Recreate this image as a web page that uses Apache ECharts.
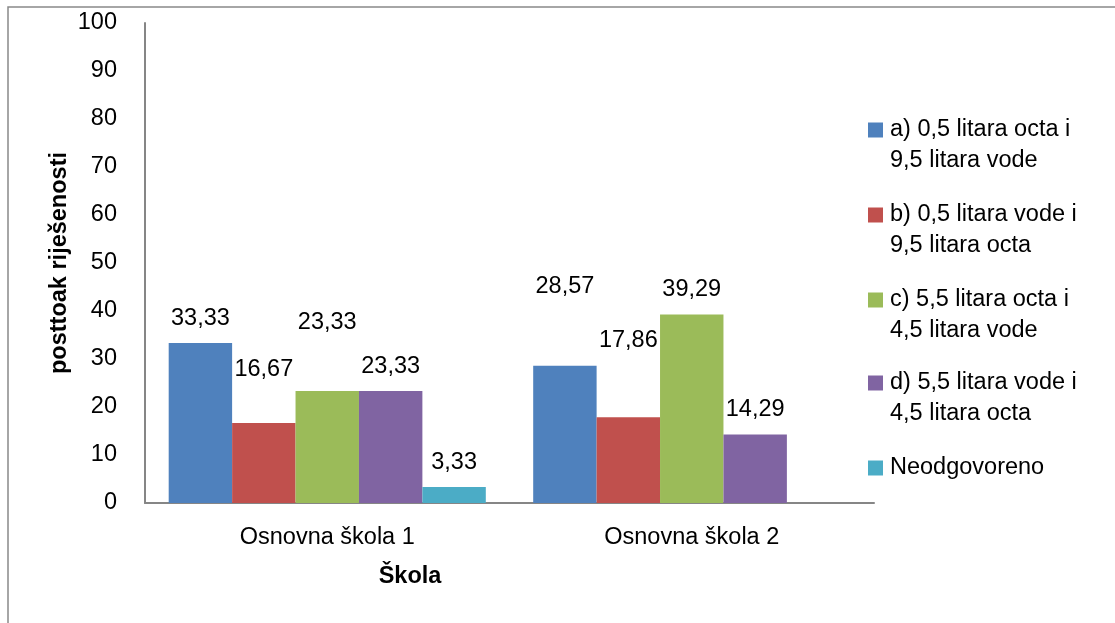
<!DOCTYPE html>
<html>
<head>
<meta charset="utf-8">
<script src="https://cdn.jsdelivr.net/npm/echarts@6/dist/echarts.min.js"></script>
<style>html,body{margin:0;padding:0;background:#fff}#c{width:1115px;height:623px}</style>
</head>
<body>
<div id="c"></div>
<script>
const categories = ['Osnovna škola 1', 'Osnovna škola 2'];
const seriesNames = [
  'a) 0,5 litara octa i\n9,5 litara vode',
  'b) 0,5 litara vode i\n9,5 litara octa',
  'c) 5,5 litara octa i\n4,5 litara vode',
  'd) 5,5 litara vode i\n4,5 litara octa',
  'Neodgovoreno'
];
const valuesA = [33.33, 28.57];
const valuesB = [16.67, 17.86];
const valuesC = [23.33, 39.29];
const valuesD = [23.33, 14.29];
const valuesN = [3.33, null];
const yTicks = [0, 10, 20, 30, 40, 50, 60, 70, 80, 90, 100];

const colors = ['#4F81BD', '#C0504D', '#9BBB59', '#8064A2', '#4BACC6'];
// extra vertical label shifts (as in the reference, where some labels were moved)
const labelShift = [[0, -54], [-28, -52], [-44, 0], [0, 0], [0, 0]];
const allValues = [valuesA, valuesB, valuesC, valuesD, valuesN];
const FONT = "'Liberation Sans', Arial, sans-serif";
const FS = 23.5;

const series = allValues.map((vals, i) => ({
  name: seriesNames[i],
  type: 'bar',
  barGap: '0%',
  barCategoryGap: '13%',
  itemStyle: { color: colors[i] },
  data: vals.map((v, j) => ({
    value: v,
    label: { offset: [0, labelShift[i][j]] }
  })),
  label: {
    show: true,
    position: 'top',
    distance: 13,
    color: '#000',
    fontSize: FS,
    fontFamily: FONT,
    formatter: p => p.value == null ? '' : p.value.toFixed(2).replace('.', ',')
  }
}));

// legends: one per item so the icon aligns with the first text line
const legendFirstLine = [130, 215, 300, 383, 468];
const legends = seriesNames.map((n, i) => {
  const twoLine = n.indexOf('\n') >= 0;
  return {
    data: [n],
    left: 868,
    top: legendFirstLine[i] - (twoLine ? 46.5 : 15.5),
    padding: 0,
    itemWidth: 15,
    itemHeight: 15,
    icon: 'rect',
    selectedMode: false,
    formatter: name => (twoLine ? ' \n' : '') + name,
    textStyle: {
      fontSize: FS,
      fontFamily: FONT,
      color: '#000',
      lineHeight: 31,
      padding: [0, 0, 0, 2]
    }
  };
});

const chart = echarts.init(document.getElementById('c'), null, { renderer: 'canvas' });
chart.setOption({
  animation: false,
  backgroundColor: '#fff',
  textStyle: { fontFamily: FONT },
  grid: { left: 145, right: 241, top: 23, bottom: 120, containLabel: false },
  legend: legends,
  xAxis: {
    type: 'category',
    data: categories,
    axisLine: { lineStyle: { color: '#868686', width: 2 } },
    axisTick: { show: false },
    axisLabel: { fontSize: FS, fontFamily: FONT, color: '#000', margin: 23 }
  },
  yAxis: {
    type: 'value',
    min: yTicks[0],
    max: yTicks[yTicks.length - 1],
    interval: yTicks[1] - yTicks[0],
    name: 'posttoak riješenosti',
    nameLocation: 'middle',
    nameGap: 73,
    nameMoveOverlap: false,
    nameTextStyle: { fontSize: FS, fontWeight: 'bold', fontFamily: FONT, color: '#000' },
    axisLine: { show: true, lineStyle: { color: '#868686', width: 2 } },
    axisTick: { show: false },
    splitLine: { show: false },
    axisLabel: { fontSize: FS, fontFamily: FONT, color: '#000', margin: 28 }
  },
  graphic: [
    {
      type: 'rect',
      shape: { x: 8, y: 7, width: 1300, height: 800 },
      style: { fill: 'none', stroke: '#898989', lineWidth: 1.5 },
      silent: true
    },
    {
      type: 'text',
      x: 410,
      y: 577,
      style: {
        text: 'Škola',
        fontSize: FS,
        fontWeight: 'bold',
        fontFamily: FONT,
        fill: '#000',
        align: 'center',
        verticalAlign: 'middle'
      }
    }
  ],
  series: series
});
</script>
</body>
</html>
